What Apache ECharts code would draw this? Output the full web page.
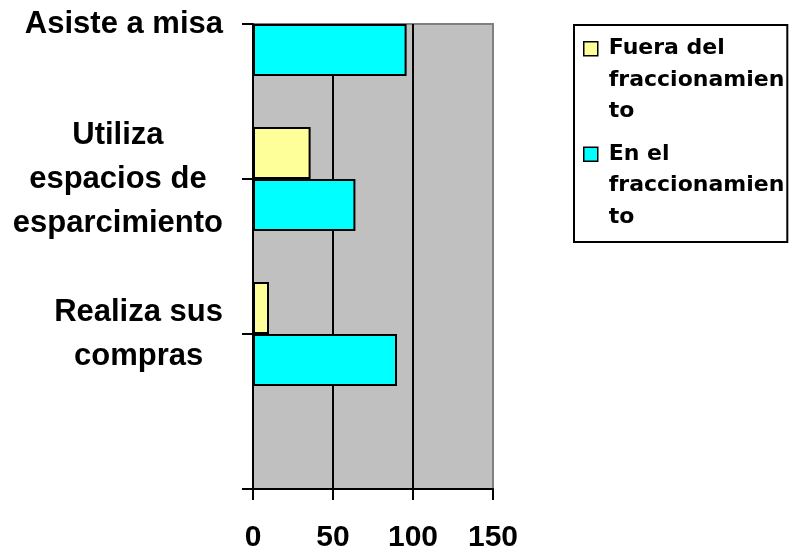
<!DOCTYPE html>
<html>
<head>
<meta charset="utf-8">
<script src="https://cdn.jsdelivr.net/npm/echarts@6/dist/echarts.min.js"></script>
<style>
  html, body { margin: 0; padding: 0; background: #ffffff; }
  #chart { width: 790px; height: 551px; }
</style>
</head>
<body>
<div id="chart"></div>
<script>
// Categories bottom-to-top; the first slot is an empty band below the last group.
const categories = ['', 'Realiza sus compras', 'Utiliza espacios de esparcimiento', 'Asiste a misa'];
const categoryLines = [[], ['Realiza sus', 'compras'], ['Utiliza', 'espacios de', 'esparcimiento'], ['Asiste a misa']];

const seriesNames = ['Fuera del fraccionamiento', 'En el fraccionamiento'];
const legendLines = [['Fuera del', 'fraccionamien', 'to'], ['En el', 'fraccionamien', 'to']];

const fueraValues = [null, 10, 36, null];
const enElValues = [null, 90, 64, 96];

const xTicks = { min: 0, max: 150, interval: 50 };

const chart = echarts.init(document.getElementById('chart'), null, { renderer: 'canvas' });

// Square marker at the top of a tall icon box so it sits beside the first text line.
const legendIcon = 'path://M0,0L14,0L14,14L0,14Z M20,77';

const option = {
  backgroundColor: '#ffffff',
  animation: false,
  grid: {
    left: 253, right: 297, top: 24, bottom: 62,
    outerBoundsMode: 'none',
    containLabel: false,
    show: true,
    backgroundColor: '#c0c0c0',
    borderColor: '#808080',
    borderWidth: 2
  },
  legend: {
    orient: 'vertical',
    left: 574, top: 25,
    padding: [8, 3, 9, 9],
    itemGap: 11,
    itemWidth: 20,
    itemHeight: 77,
    icon: legendIcon,
    backgroundColor: '#ffffff',
    borderColor: '#000000',
    borderWidth: 2,
    borderRadius: 0,
    itemStyle: { borderColor: '#000000', borderWidth: 1.5 },
    textStyle: {
      fontFamily: '"DejaVu Sans", sans-serif',
      fontWeight: 'bold',
      fontSize: 22,
      lineHeight: 31.5,
      color: '#000000'
    },
    formatter: function (name) {
      return legendLines[seriesNames.indexOf(name)].join('\n');
    },
    data: seriesNames
  },
  xAxis: {
    type: 'value',
    min: xTicks.min, max: xTicks.max, interval: xTicks.interval,
    axisLine: { show: true, lineStyle: { color: '#000000', width: 2 } },
    axisTick: { show: true, length: 11, lineStyle: { color: '#000000', width: 2 } },
    splitLine: {
      show: true,
      // the line at the maximum is the plot frame, drawn grey
      lineStyle: { color: ['#000000', '#000000', '#000000', '#808080'], width: 2 }
    },
    axisLabel: {
      margin: 34,
      fontFamily: '"Liberation Sans", Arial, sans-serif',
      fontWeight: 'bold',
      fontSize: 30,
      color: '#000000'
    }
  },
  yAxis: {
    type: 'category',
    data: categories,
    boundaryGap: false,
    axisLine: { show: true, lineStyle: { color: '#000000', width: 2 } },
    axisTick: { show: true, length: 11, interval: 0, lineStyle: { color: '#000000', width: 2 } },
    splitLine: { show: false },
    axisLabel: {
      interval: 0,
      margin: 30,
      align: 'right',
      formatter: function (value, index) {
        return categoryLines[index].map(function (l) { return '{c|' + l + '}'; }).join('\n');
      },
      rich: {
        c: {
          align: 'center',
          fontFamily: '"Liberation Sans", Arial, sans-serif',
          fontWeight: 'bold',
          fontSize: 31,
          lineHeight: 44,
          color: '#000000'
        }
      }
    }
  },
  series: [
    {
      name: seriesNames[0],
      type: 'bar',
      data: fueraValues,
      barWidth: 52,
      barGap: '0%',
      clip: true,
      itemStyle: { color: '#ffff99', borderColor: '#000000', borderWidth: 2 }
    },
    {
      name: seriesNames[1],
      type: 'bar',
      data: enElValues,
      barWidth: 52,
      barGap: '0%',
      clip: true,
      itemStyle: { color: '#00ffff', borderColor: '#000000', borderWidth: 2 }
    }
  ]
};

chart.setOption(option);
</script>
</body>
</html>
